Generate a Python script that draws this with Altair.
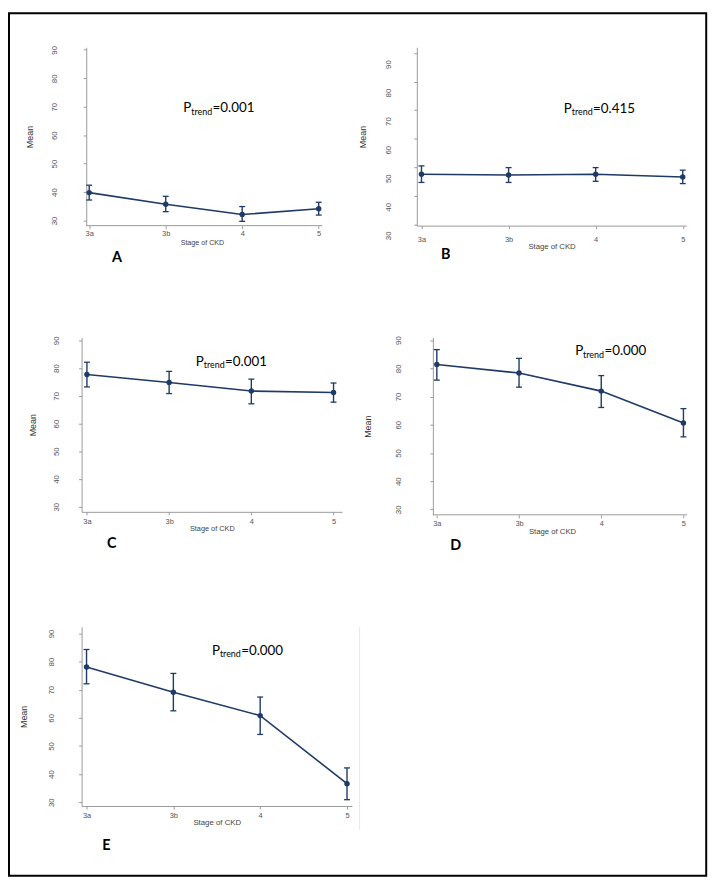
import altair as alt
import pandas as pd

# ---------------- data ----------------
stages = ["3a", "3b", "4", "5"]
letters = ["A", "B", "C", "D", "E"]
p_trend = ["0.001", "0.415", "0.001", "0.000", "0.000"]
y_ticks = [30, 40, 50, 60, 70, 80, 90]

mean_a = [39.8, 35.7, 32.1, 34.1]
low_a = [37.2, 33.1, 29.7, 31.9]
high_a = [42.4, 38.5, 34.9, 36.4]

mean_b = [47.6, 47.3, 47.6, 46.6]
low_b = [44.7, 44.7, 45.1, 44.3]
high_b = [50.5, 49.9, 49.9, 49.0]

mean_c = [77.7, 74.8, 71.7, 71.2]
low_c = [73.2, 70.8, 67.1, 67.7]
high_c = [82.1, 78.8, 76.0, 74.6]

mean_d = [81.3, 78.3, 71.9, 60.6]
low_d = [75.8, 73.3, 66.1, 55.7]
high_d = [86.6, 83.5, 77.4, 65.7]

mean_e = [78.1, 69.1, 60.8, 36.6]
low_e = [72.1, 62.5, 54.1, 30.9]
high_e = [84.3, 75.8, 67.4, 42.2]

# ---------------- style / layout ----------------
NAVY = "#1e3a66"
AXIS = "#9a9a9a"
LABEL = "#555555"
SANS = "Liberation Sans"
ANNOT = "Lato"

label_expr = "[" + ",".join("'%s'" % s for s in stages) + "][datum.value]"

# axis_x: where the x-axis line starts (data units) when the y axis is moved inside the plot
layouts = {
    "A": dict(w=243, h=180, xdom=[-0.0997, 3.0466], ydom=[28.19, 90.87], yoff=-4.7, axis_x=-0.0388,
              ylp=29, ylo=0, ytx=-57, xlp=5.4, xty=17.4, xts=7.2,
              px=1.230, py=68.06, lx=0.3626, ly=16.63),
    "B": dict(w=272, h=180, xdom=[-0.0535, 3.0398], ydom=[29.58, 92.01], yoff=0, axis_x=None,
              ylp=26, ylo=11, ytx=-55, xlp=10.7, xty=21, xts=7.8,
              px=1.635, py=69.19, lx=0.2786, ly=19.25),
    "C": dict(w=263, h=176, xdom=[-0.0651, 3.1036], ydom=[28.14, 91.0], yoff=0, axis_x=None,
              ylp=22, ylo=0, ytx=-50, xlp=6.3, xty=17, xts=7.4,
              px=1.325, py=80.82, lx=0.301, ly=16.54),
    "D": dict(w=273, h=179, xdom=[-0.2434, 3.0458], ydom=[28.07, 90.88], yoff=-16.2, axis_x=-0.0482,
              ylp=32, ylo=0, ytx=-66, xlp=5.7, xty=16.7, xts=7.8,
              px=1.683, py=84.63, lx=0.229, ly=17.12),
    "E": dict(w=273, h=181, xdom=[-0.057, 3.057], ydom=[28.66, 92.4], yoff=0, axis_x=None,
              ylp=27.6, ylo=0, ytx=-59, xlp=7, xty=16.7, xts=7.9,
              px=1.445, py=82.36, lx=0.228, ly=14.51),
}


def panel(mean, low, high, letter, p, extras=()):
    lay = layouts[letter]
    df = pd.DataFrame({"i": list(range(len(stages))), "mean": mean, "low": low, "high": high})
    xs = alt.Scale(domain=lay["xdom"], nice=False, zero=False)
    ys = alt.Scale(domain=lay["ydom"], nice=False, zero=False)
    own_domain = lay["axis_x"] is not None
    xaxis = alt.Axis(values=list(range(len(stages))), labelExpr=label_expr, title="Stage of CKD",
                     grid=False, domain=not own_domain, domainColor=AXIS, tickColor=AXIS, tickSize=3,
                     labelFont=SANS, labelFontSize=7.5, labelColor=LABEL, labelBaseline="middle",
                     labelPadding=lay["xlp"], labelFlush=False, labelOverlap=False,
                     titleFont=SANS, titleFontSize=lay["xts"], titleFontWeight="normal",
                     titleColor="#444444", titleBaseline="middle", titleAlign="center",
                     titleX=lay["w"] / 2, titleY=lay["xty"])
    yaxis = alt.Axis(values=y_ticks, title="Mean", grid=False, domainColor=AXIS, tickColor=AXIS,
                     tickSize=3, labelFont=SANS, labelFontSize=8, labelColor=LABEL, labelAngle=270,
                     labelAlign="center", labelBaseline="middle", labelPadding=lay["ylp"],
                     labelOffset=lay["ylo"], offset=lay["yoff"], labelFlush=False, labelOverlap=False,
                     titleFont=SANS, titleFontSize=9, titleFontWeight="normal", titleColor="#333333",
                     titleAngle=270, titleAlign="center", titleBaseline="middle",
                     titleX=lay["ytx"], titleY=lay["h"] / 2)

    def X(f):
        return alt.X(f, scale=xs, axis=xaxis)

    def Y(f):
        return alt.Y(f, scale=ys, axis=yaxis)

    base = alt.Chart(df)
    line = base.mark_line(color=NAVY, strokeWidth=1.6).encode(x=X("i:Q"), y=Y("mean:Q"))
    bars = base.mark_rule(color=NAVY, strokeWidth=1.4).encode(x=X("i:Q"), y=Y("low:Q"), y2="high:Q")
    cap_lo = base.mark_tick(color=NAVY, orient="horizontal", size=6, thickness=1.3, opacity=1).encode(
        x=X("i:Q"), y=Y("low:Q"))
    cap_hi = base.mark_tick(color=NAVY, orient="horizontal", size=6, thickness=1.3, opacity=1).encode(
        x=X("i:Q"), y=Y("high:Q"))
    pts = base.mark_circle(color=NAVY, size=30, opacity=1).encode(x=X("i:Q"), y=Y("mean:Q"))

    ann = alt.Chart(pd.DataFrame({"x": [lay["px"]], "y": [lay["py"]]}))
    t_p = ann.mark_text(text="P", font=ANNOT, fontSize=13.5, align="left", baseline="alphabetic",
                        color="black").encode(x=X("x:Q"), y=Y("y:Q"))
    t_sub = ann.mark_text(text="trend", font=ANNOT, fontSize=9, align="left", baseline="alphabetic",
                          dx=8, dy=2.5, color="black").encode(x=X("x:Q"), y=Y("y:Q"))
    t_val = ann.mark_text(text="=" + p, font=ANNOT, fontSize=13.5, align="left", baseline="alphabetic",
                          dx=29.5, color="black").encode(x=X("x:Q"), y=Y("y:Q"))

    let = alt.Chart(pd.DataFrame({"x": [lay["lx"]], "y": [lay["ly"]], "t": [letter]})).mark_text(
        font=ANNOT, fontSize=14.5, fontWeight="bold", align="center", baseline="middle", color="black"
    ).encode(x=X("x:Q"), y=Y("y:Q"), text="t:N")

    layers = [line, bars, cap_lo, cap_hi, pts, t_p, t_sub, t_val, let]
    if own_domain:
        # x-axis line starting at the (inset) y axis, drawn through the panel's own scales
        edge = pd.DataFrame({"x0": [lay["axis_x"]], "x1": [lay["xdom"][1]], "y0": [lay["ydom"][0]]})
        dom = alt.Chart(edge).mark_rule(color=AXIS, strokeWidth=1).encode(
            x=X("x0:Q"), x2="x1:Q", y=Y("y0:Q"))
        layers.append(dom)
    layers.extend(extras)
    return alt.layer(*layers).properties(width=lay["w"], height=lay["h"])


one = alt.Chart(pd.DataFrame({"v": [0]}))
frame = one.mark_rect(fillOpacity=0, stroke="black", strokeWidth=2).encode(
    x=alt.value(-73.3), x2=alt.value(630.7), y=alt.value(-34.5), y2=alt.value(836.5))
faint = one.mark_rule(color="#e8e8e8", strokeWidth=1).encode(
    x=alt.value(280.7), y=alt.value(0), y2=alt.value(205))

pa = panel(mean_a, low_a, high_a, letters[0], p_trend[0], extras=(frame,))
pb = panel(mean_b, low_b, high_b, letters[1], p_trend[1])
pc = panel(mean_c, low_c, high_c, letters[2], p_trend[2])
pd_ = panel(mean_d, low_d, high_d, letters[3], p_trend[3])
pe = panel(mean_e, low_e, high_e, letters[4], p_trend[4], extras=(faint,))

# fixed canvas: panel A's plot corner sits at (74.3, 35.5) inside the drawing
chart = alt.concat(pa, pb, pc, pd_, pe, columns=2).properties(
    spacing={"row": 113, "column": 65.5}, bounds="flush", align="none",
    autosize=alt.AutoSizeParams(type="none"),
    padding={"left": 74.3, "top": 35.5, "right": 632.5, "bottom": 838},
    background="white"
).configure_view(stroke=None)

chart.save("out.html", embed_options={"renderer": "svg", "actions": False})
